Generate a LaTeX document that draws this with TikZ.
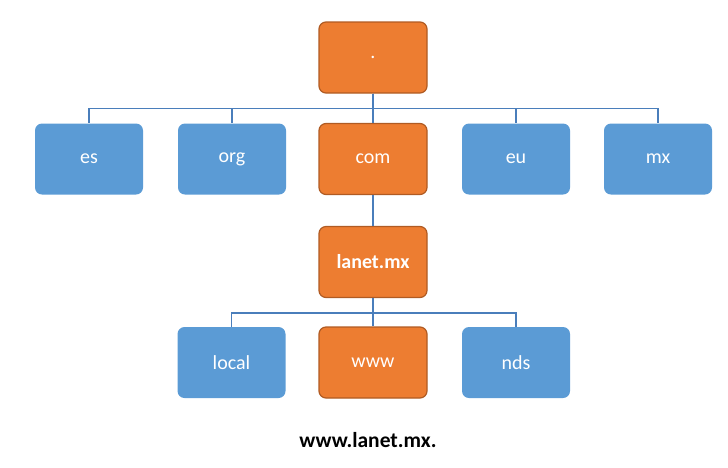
\documentclass[tikz,border=0pt]{standalone}
\usepackage{fontspec}
\setmainfont{Carlito}
\definecolor{boxorange}{HTML}{ED7D31}
\definecolor{edgeorange}{HTML}{B05B23}
\definecolor{boxblue}{HTML}{5B9BD5}
\definecolor{linkblue}{HTML}{4A7EBB}
\begin{document}
\begin{tikzpicture}[x=1pt,y=-1pt,
  box/.style={rounded corners=7pt, minimum width=108pt, minimum height=71pt, inner sep=0pt, text=white, font=\fontsize{20}{24}\selectfont},
  orangebox/.style={box, fill=boxorange, draw=edgeorange, line width=1.2pt},
  bluebox/.style={box, fill=boxblue},
  link/.style={draw=linkblue, line width=1.6pt}]
\useasboundingbox (0,0) rectangle (728,467);
\node[orangebox] (root) at (373,57.5) {.};
\node[bluebox] (es) at (89,159) {es};
\node[bluebox] (org) at (232,159) {org};
\node[orangebox] (com) at (373,159) {com};
\node[bluebox] (eu) at (516,159) {eu};
\node[bluebox] (mx) at (658,159) {mx};
\node[orangebox] (lanet) at (373,262) {\textbf{lanet.mx}};
\node[bluebox] (local) at (231.5,362.5) {local};
\node[orangebox] (www) at (373,362.5) {www};
\node[bluebox] (nds) at (516,362.5) {nds};
\node (fqdn) at (368,440) {\fontsize{21.5}{25}\selectfont\textbf{www.lanet.mx.}};

\draw[link] (root.south) -- ++(0,15) -| (es.north);
\draw[link] (root.south) -- ++(0,15) -| (org.north);
\draw[link] (root.south) -- (com.north);
\draw[link] (root.south) -- ++(0,15) -| (eu.north);
\draw[link] (root.south) -- ++(0,15) -| (mx.north);
\draw[link] (com.south) -- (lanet.north);
\draw[link] (lanet.south) -- ++(0,15) -| (local.north);
\draw[link] (lanet.south) -- (www.north);
\draw[link] (lanet.south) -- ++(0,15) -| (nds.north);
\end{tikzpicture}
\end{document}
